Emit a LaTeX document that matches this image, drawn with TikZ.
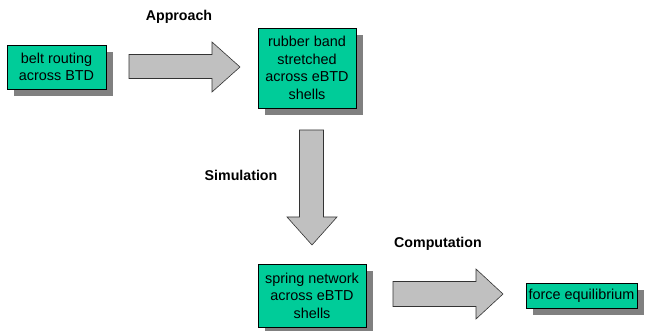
\documentclass[tikz,border=0pt]{standalone}
\usepackage{fontspec}
\setmainfont{Liberation Sans}
\usetikzlibrary{shadows}
\definecolor{boxgreen}{HTML}{00CC99}
\definecolor{shadowgray}{HTML}{808080}
\definecolor{arrowgray}{HTML}{C0C0C0}
\begin{document}
\begin{tikzpicture}[x=1pt,y=-1pt,
  greenbox/.style={draw=black, line width=0.8pt, fill=boxgreen, inner sep=0pt, align=center,
    font=\fontsize{14.4}{17.5}\selectfont,
    drop shadow={shadow xshift=7pt, shadow yshift=-7pt, fill=shadowgray, opacity=1}},
  blockarrow/.style={draw=black!80, line width=0.6pt, fill=arrowgray},
  steplabel/.style={font=\fontsize{14.2}{17}\selectfont\bfseries, inner sep=0pt}]
\useasboundingbox (0,0) rectangle (645,331);
\node[greenbox, minimum width=99pt, minimum height=44pt] (belt) at (56.5,67) {belt routing\\across BTD};
\node[greenbox, minimum width=98pt, minimum height=80pt] (rubber) at (307,68) {rubber band\\stretched\\across eBTD\\shells};
\node[greenbox, minimum width=108pt, minimum height=63pt] (spring) at (312,295.5) {spring network\\across eBTD\\shells};
\node[greenbox, minimum width=111pt, minimum height=25pt] (force) at (581.5,295.5) {force equilibrium};
\draw[blockarrow] (129,54.5) -- (212,54.5) -- (212,42) -- (240,67) -- (212,92) -- (212,78.5) -- (129,78.5) -- cycle;
\draw[blockarrow] (299.5,130) -- (299.5,217) -- (287,217) -- (312,245) -- (337,217) -- (323.5,217) -- (323.5,130) -- cycle;
\draw[blockarrow] (393,281.5) -- (476,281.5) -- (476,269) -- (503,294) -- (476,319) -- (476,306.5) -- (393,306.5) -- cycle;
\node[steplabel] (approach) at (179,17) {Approach};
\node[steplabel] (simulation) at (241,175) {Simulation};
\node[steplabel] (computation) at (438,244) {Computation};
\end{tikzpicture}
\end{document}
